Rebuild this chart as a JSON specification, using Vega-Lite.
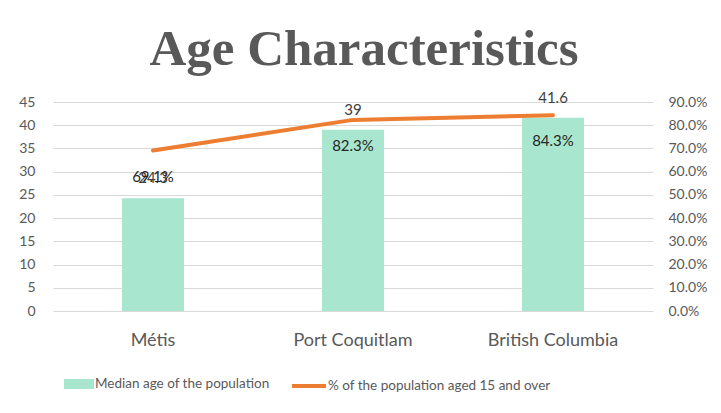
{
  "$schema": "https://vega.github.io/schema/vega-lite/v6.json",
  "width": 600,
  "height": 209,
  "autosize": {"type": "none"},
  "padding": {"left": 53, "top": 102, "right": 68, "bottom": 102},
  "background": "white",
  "title": {
    "text": "Age Characteristics",
    "font": "Liberation Serif",
    "fontSize": 51,
    "fontWeight": "bold",
    "color": "#595959",
    "anchor": "middle",
    "offset": 15,
    "dx": 11
  },
  "data": {
    "values": [
      {"place": "Métis", "median": 24.3, "pct": 0.691},
      {"place": "Port Coquitlam", "median": 39, "pct": 0.823},
      {"place": "British Columbia", "median": 41.6, "pct": 0.843}
    ]
  },
  "config": {
    "font": "Lato",
    "view": {"stroke": null},
    "axis": {"labelColor": "#595959", "domain": false, "ticks": false, "titleColor": "#595959"},
    "legend": {"labelColor": "#595959", "labelFont": "Lato", "labelFontSize": 13.5, "labelLimit": 0}
  },
  "encoding": {
    "x": {
      "field": "place",
      "type": "nominal",
      "sort": null,
      "scale": {"paddingInner": 0.69, "paddingOuter": 0.345},
      "axis": {"title": null, "labelAngle": 0, "labelFontSize": 18, "labelPadding": 20, "labelColor": "#595959", "labelOverlap": false}
    }
  },
  "layer": [
    {
      "encoding": {
        "y": {
          "field": "median",
          "type": "quantitative",
          "scale": {"domain": [0, 45]},
          "axis": {"title": null, "values": [0,5,10,15,20,25,30,35,40,45], "labelFontSize": 14, "labelPadding": 18, "grid": true, "gridColor": "#D9D9D9", "gridWidth": 1, "labelOverlap": false, "labelFlush": false}
        }
      },
      "layer": [
        {
          "mark": {"type": "bar", "color": "#A8E6CF"},
          "encoding": {
            "fill": {
              "datum": "Median age of the population",
              "type": "nominal",
              "scale": {"range": ["#A8E6CF"]},
              "legend": {
                "title": null,
                "orient": "none",
                "legendX": 16,
                "legendY": 272,
                "symbolType": "M-1.5,-0.5H1.5V0.5H-1.5Z",
                "symbolSize": 400,
                "symbolStrokeWidth": 0,
                "labelOffset": 6
              }
            }
          }
        },
        {
          "mark": {"type": "text", "dy": -20, "fontSize": 15, "color": "#404040"},
          "encoding": {
            "text": {"field": "median", "type": "quantitative"}
          }
        }
      ]
    },
    {
      "encoding": {
        "y": {
          "field": "pct",
          "type": "quantitative",
          "scale": {"domain": [0, 0.9]},
          "axis": {"title": null, "orient": "right", "values": [0,0.1,0.2,0.3,0.4,0.5,0.6,0.7,0.8,0.9], "format": ".1%", "labelFontSize": 14, "labelPadding": 15, "grid": false, "labelOverlap": false, "labelFlush": false}
        }
      },
      "layer": [
        {
          "mark": {"type": "line", "strokeWidth": 4, "strokeCap": "round"},
          "encoding": {
            "stroke": {
              "datum": "% of the population aged 15 and over",
              "type": "nominal",
              "scale": {"range": ["#ED7D31"]},
              "legend": {
                "title": null,
                "orient": "none",
                "legendX": 244,
                "legendY": 272,
                "symbolType": "M-1.7,0H1.7",
                "symbolSize": 400,
                "symbolStrokeWidth": 4,
                "labelOffset": 7
              }
            }
          }
        },
        {
          "mark": {"type": "text", "dy": 26, "fontSize": 15, "color": "#262626"},
          "encoding": {
            "text": {"field": "pct", "type": "quantitative", "format": ".1%"}
          }
        }
      ]
    }
  ],
  "resolve": {"scale": {"y": "independent"}}
}
